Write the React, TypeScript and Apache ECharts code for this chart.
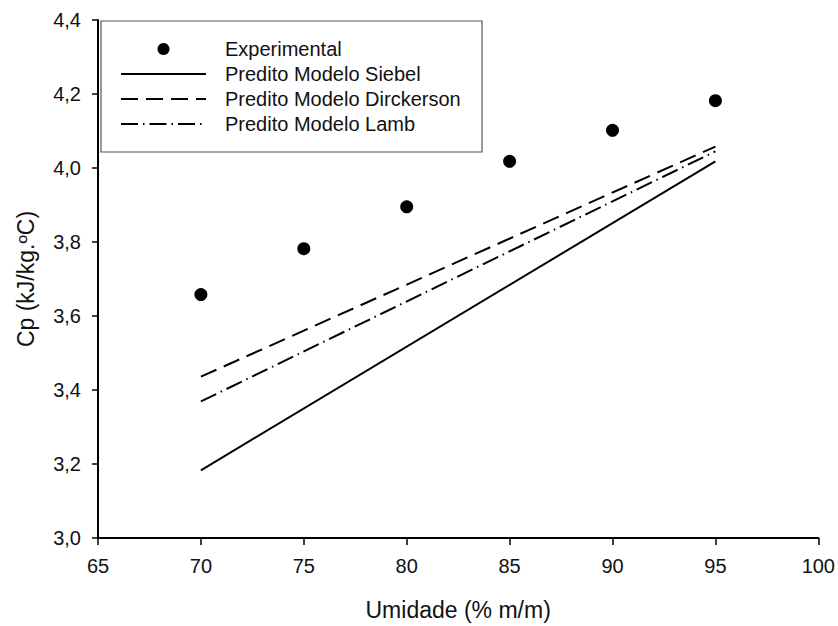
import React, { useEffect, useRef } from "react";
import * as echarts from "echarts";

const xValues = [70, 75, 80, 85, 90, 95];
const experimental = [3.658, 3.782, 3.895, 4.018, 4.102, 4.182];
const modelX = [70, 95];
const siebel = [3.183, 4.018];
const dickerson = [3.436, 4.058];
const lamb = [3.369, 4.045];
const xTicks = { min: 65, max: 100, interval: 5 };
const yTicks = { min: 3.0, max: 4.4, interval: 0.2 };

const FONT = "'Liberation Sans', Arial, sans-serif";
const INK = "#111";

export default function App() {
  const ref = useRef<HTMLDivElement>(null);
  useEffect(() => {
    if (!ref.current) return;
    const chart = echarts.init(ref.current, null, { renderer: "svg" });
    const pair = (xs: number[], ys: number[]) => xs.map((x, i) => [x, ys[i]]);
    const hiddenDot = { color: "rgba(0,0,0,0)", borderWidth: 0, opacity: 0 };
    chart.setOption({
      animation: false,
      backgroundColor: "#fff",
      textStyle: { fontFamily: FONT, color: INK },
      grid: { left: 98, right: 19, top: 20, bottom: 85, containLabel: false },
      graphic: [
        {
          type: "rect",
          shape: { x: 101, y: 21, width: 381, height: 131 },
          style: { fill: "#fff", stroke: "#555", lineWidth: 1.2 },
          z: 5,
        },
      ],
      legend: {
        orient: "vertical",
        left: 115,
        top: 34,
        itemWidth: 85,
        itemHeight: 12,
        itemGap: 5,
        z: 10,
        textStyle: {
          fontFamily: FONT,
          fontSize: 20,
          lineHeight: 20,
          color: INK,
          padding: [0, 0, 0, 14],
        },
        data: [
          { name: "Experimental", icon: "circle", itemStyle: { color: "#000", opacity: 1 } },
          { name: "Predito Modelo Siebel", itemStyle: hiddenDot },
          { name: "Predito Modelo Dirckerson", itemStyle: hiddenDot },
          { name: "Predito Modelo Lamb", itemStyle: hiddenDot },
        ],
      },
      xAxis: {
        type: "value",
        min: xTicks.min,
        max: xTicks.max,
        interval: xTicks.interval,
        name: "Umidade (% m/m)",
        nameLocation: "middle",
        nameGap: 60,
        nameTextStyle: { fontFamily: FONT, fontSize: 23, color: INK },
        axisLine: { show: true, onZero: false, lineStyle: { color: "#000", width: 2 } },
        axisTick: { show: true, inside: false, length: 7, lineStyle: { color: "#000", width: 1.5 } },
        axisLabel: { fontFamily: FONT, fontSize: 20, color: INK, margin: 18 },
        splitLine: { show: false },
      },
      yAxis: {
        type: "value",
        min: yTicks.min,
        max: yTicks.max,
        interval: yTicks.interval,
        name: "Cp (kJ/kg.ºC)",
        nameLocation: "middle",
        nameRotate: 90,
        nameGap: 61,
        nameTextStyle: { fontFamily: FONT, fontSize: 23, color: INK },
        axisLine: { show: true, onZero: false, lineStyle: { color: "#000", width: 2 } },
        axisTick: { show: true, inside: false, length: 6, lineStyle: { color: "#000", width: 1.5 } },
        axisLabel: {
          fontFamily: FONT,
          fontSize: 20,
          color: INK,
          margin: 17,
          formatter: (v: number) => v.toFixed(1).replace(".", ","),
        },
        splitLine: { show: false },
      },
      series: [
        {
          name: "Experimental",
          type: "scatter",
          data: pair(xValues, experimental),
          symbol: "circle",
          symbolSize: 13,
          itemStyle: { color: "#000", opacity: 1 },
          z: 4,
        },
        {
          name: "Predito Modelo Siebel",
          type: "line",
          data: pair(modelX, siebel),
          symbol: "none",
          showSymbol: false,
          lineStyle: { color: "#000", width: 2, type: "solid" },
          itemStyle: { color: "#000" },
        },
        {
          name: "Predito Modelo Dirckerson",
          type: "line",
          data: pair(modelX, dickerson),
          symbol: "none",
          showSymbol: false,
          lineStyle: { color: "#000", width: 2, type: [17, 8] },
          itemStyle: { color: "#000" },
        },
        {
          name: "Predito Modelo Lamb",
          type: "line",
          data: pair(modelX, lamb),
          symbol: "none",
          showSymbol: false,
          lineStyle: { color: "#000", width: 2, type: [17, 5, 1.5, 5] },
          itemStyle: { color: "#000" },
        },
      ],
    });
    return () => chart.dispose();
  }, []);
  return (
    <div
      ref={ref}
      style={{ position: "fixed", left: 0, top: 0, width: 838, height: 626, background: "#fff" }}
    />
  );
}
